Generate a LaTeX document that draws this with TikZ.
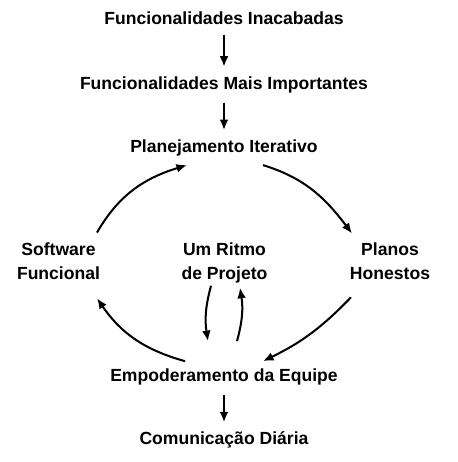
\documentclass[tikz,border=0pt]{standalone}
\usepackage{fontspec}
\setmainfont{Liberation Sans}
\usepackage{tikz}
\usetikzlibrary{calc,arrows,arrows.meta,positioning}

\begin{document}
\begin{tikzpicture}[x=0.02cm,y=0.02cm,>={Latex[length=6pt,width=5pt]}]

        \tikzstyle{every node}=[font=\fontsize{10}{13.8}\selectfont\bfseries, align=center, inner sep=5pt, anchor=base]
        \tikzstyle{every path}=[line width=1.15pt]
        \useasboundingbox (0,0) rectangle (457,462);

        \node (inac) at (224,437) {Funcionalidades Inacabadas};
        \node (mais) at (224,372.7) {Funcionalidades Mais Importantes};
        \node (plan) at (224,309.3) {Planejamento Iterativo};
        \node (soft) at (58.5,182.7) {Software\\Funcional};
        \node (ritmo) at (224.5,182.7) {Um Ritmo\\de Projeto};
        \node (planos) at (390,182.7) {Planos\\Honestos};
        \node (emp) at (224,80.3) {Empoderamento da Equipe};
        \node (com) at (224,17) {Comunicação Diária};

        \draw[->] (inac) -- (mais);
        \draw[->] (mais) -- (plan);
        \draw[->] (emp) -- (com);

        \draw[->] ($(soft.north)+(38.5,0)$) to[out=60,in=197] ($(plan.south)+(-37,1)$);
        \draw[->] ($(plan.south)+(39,1)$) to[out=-17,in=127] ($(planos.north)+(-38,-1)$);
        \draw[->] ($(planos.south)+(-39,-8)$) to[bend left=10] ($(emp.north)+(39,-2)$);
        \draw[->] ($(emp.north)+(-39,-2)$) to[bend left=20] ($(soft.south)+(38.5,-9)$);
        \draw[->] ($(ritmo.south)+(-13.5,7)$) to[bend right=12] ($(emp.north)+(-16,18)$);
        \draw[->] ($(emp.north)+(13,18)$) to[bend right=12] ($(ritmo.south)+(15.5,5)$);

      \end{tikzpicture}
\end{document}
